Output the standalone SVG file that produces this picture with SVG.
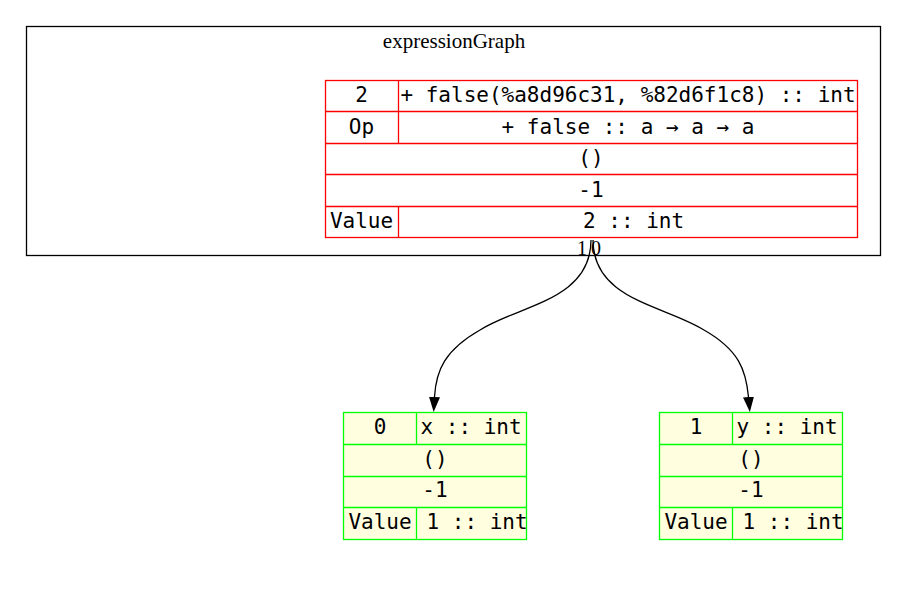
<svg xmlns="http://www.w3.org/2000/svg" width="913" height="591" viewBox="0 0 913 591">
<style>
.bg{fill:#ffffff}
.cluster{fill:none;stroke:#000000;stroke-width:1.3}
.title{font-family:"Liberation Serif","Times New Roman",serif;font-size:21px;fill:#000}
.elabel{font-family:"Liberation Serif","Times New Roman",serif;font-size:20px;fill:#000}
.cell{font-family:"DejaVu Sans Mono",monospace;font-size:21px;fill:#000}
.c{text-anchor:middle}
.red rect,.red line{stroke:#ff0000;stroke-width:1.3}
.red rect{fill:#ffffff}
.green rect,.green line{stroke:#00ff00;stroke-width:1.3}
.green rect{fill:#ffffe0}
.edge{fill:none;stroke:#000;stroke-width:1.3}
</style>
<defs>
<marker id="arrow" markerWidth="15" markerHeight="11" refX="0" refY="5.5" orient="auto" markerUnits="userSpaceOnUse" viewBox="0 0 15 11">
<path d="M0,0 L15,5.5 L0,11 Z" fill="#000"/>
</marker>
</defs>
<rect class="bg" x="0" y="0" width="913" height="591"/>
<g id="cluster_expressionGraph">
<rect class="cluster" x="26.5" y="26.5" width="854" height="229"/>
<text class="title c" x="454" y="48">expressionGraph</text>
</g>
<g id="node2" class="red">
<rect x="325.5" y="80.5" width="532" height="157"/>
<line x1="325.5" y1="111.5" x2="857.5" y2="111.5"/>
<line x1="325.5" y1="143.5" x2="857.5" y2="143.5"/>
<line x1="325.5" y1="174.5" x2="857.5" y2="174.5"/>
<line x1="325.5" y1="206.5" x2="857.5" y2="206.5"/>
<line x1="398.5" y1="80.5" x2="398.5" y2="143.5"/>
<line x1="398.5" y1="206.5" x2="398.5" y2="237.5"/>
<text class="cell c" x="361.5" y="102">2</text>
<text class="cell c" x="628" y="102">+ false(%a8d96c31, %82d6f1c8) :: int</text>
<text class="cell c" x="361.5" y="134">Op</text>
<text class="cell c" x="628" y="134">+ false :: a → a → a</text>
<text class="cell c" x="591" y="165">()</text>
<text class="cell c" x="591" y="197">-1</text>
<text class="cell c" x="361.5" y="228">Value</text>
<text class="cell" x="583" y="228">2 :: int</text>
</g>
<g id="node0" class="green">
<rect x="343.5" y="412.5" width="183" height="127"/>
<line x1="343.5" y1="444.5" x2="526.5" y2="444.5"/>
<line x1="343.5" y1="476.5" x2="526.5" y2="476.5"/>
<line x1="343.5" y1="507.5" x2="526.5" y2="507.5"/>
<line x1="416.5" y1="412.5" x2="416.5" y2="444.5"/>
<line x1="416.5" y1="507.5" x2="416.5" y2="539.5"/>
<text class="cell c" x="380" y="434">0</text>
<text class="cell" x="420.5" y="434">x :: int</text>
<text class="cell c" x="435" y="466">()</text>
<text class="cell c" x="435" y="497">-1</text>
<text class="cell c" x="380" y="529">Value</text>
<text class="cell" x="426.5" y="529">1 :: int</text>
</g>
<g id="node1" class="green">
<rect x="659.5" y="412.5" width="183" height="127"/>
<line x1="659.5" y1="444.5" x2="842.5" y2="444.5"/>
<line x1="659.5" y1="476.5" x2="842.5" y2="476.5"/>
<line x1="659.5" y1="507.5" x2="842.5" y2="507.5"/>
<line x1="732.5" y1="412.5" x2="732.5" y2="444.5"/>
<line x1="732.5" y1="507.5" x2="732.5" y2="539.5"/>
<text class="cell c" x="696" y="434">1</text>
<text class="cell" x="736.5" y="434">y :: int</text>
<text class="cell c" x="751" y="466">()</text>
<text class="cell c" x="751" y="497">-1</text>
<text class="cell c" x="696" y="529">Value</text>
<text class="cell" x="742.5" y="529">1 :: int</text>
</g>
<g id="edges">
<path class="edge" d="M591,240 C591,300 520,305 480,330 C445,350 436,370 434.5,397" marker-end="url(#arrow)"/>
<path class="edge" d="M593,240 C593,300 664,305 704,330 C739,350 746,370 748.5,397" marker-end="url(#arrow)"/>
<text class="elabel c" x="582" y="255">1</text>
<text class="elabel c" x="596" y="255">0</text>
</g>
</svg>
